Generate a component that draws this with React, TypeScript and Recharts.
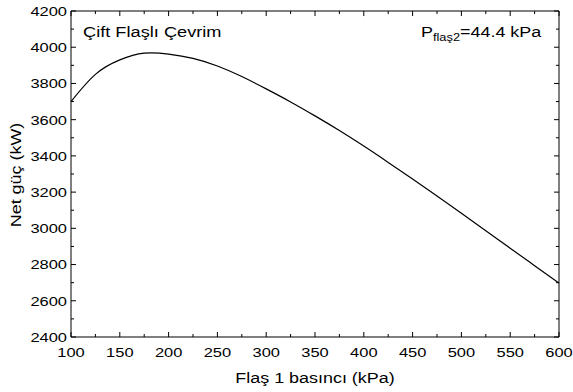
import { LineChart, Line, XAxis, YAxis } from "recharts";

// Flaş 1 basıncı (kPa)
const pressures = [100, 125, 150, 175, 200, 225, 250, 275, 300, 325, 350, 375, 400, 425, 450, 475, 500, 525, 550, 575, 600];
// Net güç (kW)
const netPower = [3700, 3850, 3930, 3967, 3962, 3938, 3896, 3838, 3770, 3698, 3621, 3540, 3454, 3364, 3272, 3178, 3083, 2987, 2890, 2794, 2698];

const xTicks = [100, 125, 150, 175, 200, 225, 250, 275, 300, 325, 350, 375, 400, 425, 450, 475, 500, 525, 550, 575, 600];
const yTicks = [2400, 2500, 2600, 2700, 2800, 2900, 3000, 3100, 3200, 3300, 3400, 3500, 3600, 3700, 3800, 3900, 4000, 4100, 4200];

const X_MIN = 100;
const X_MAX = 600;
const Y_MIN = 2400;
const Y_MAX = 4200;

// mirrored top/right tick lengths in data units (~5px major, ~3px minor)
const TOP_MAJOR = 28;
const TOP_MINOR = 17;
const RIGHT_MAJOR = 5.1;
const RIGHT_MINOR = 3.1;

const curveRows = pressures.map((p, i) => ({ p, w: netPower[i] }));
// top + right edge of the box
const frameRows = [
  { p: X_MIN, frame: Y_MAX },
  { p: X_MAX, frame: Y_MAX },
  { p: X_MAX, frame: Y_MIN },
];
// inward ticks on top and right edges, each pair split by a null row
const topMarkRows = xTicks.flatMap((t) => [
  { p: t, mark: Y_MAX },
  { p: t, mark: Y_MAX - (t % 50 === 0 ? TOP_MAJOR : TOP_MINOR) },
  { p: t, mark: null },
]);
const rightMarkRows = yTicks.flatMap((t) => [
  { p: X_MAX, mark: t },
  { p: X_MAX - (t % 200 === 0 ? RIGHT_MAJOR : RIGHT_MINOR), mark: t },
  { p: X_MAX, mark: null },
]);
const data: any[] = [...curveRows, ...frameRows, ...topMarkRows, ...rightMarkRows];

const FONT = "'Liberation Sans', Arial, sans-serif";

function renderXTick(props: any) {
  const { x, y, payload } = props;
  const major = payload.value % 50 === 0;
  const len = major ? 5 : 3;
  return (
    <g key={"xt" + payload.value}>
      <line x1={x} x2={x} y1={y} y2={y - len} stroke="#000" strokeWidth={1} />
      {major && (
        <text transform={`translate(${x},${y + 20}) scale(1.22,1)`} textAnchor="middle" fontSize={13.5} fontFamily={FONT} fill="#000">
          {payload.value}
        </text>
      )}
    </g>
  );
}

function renderYTick(props: any) {
  const { x, y, payload } = props;
  const major = payload.value % 200 === 0;
  const len = major ? 5 : 3;
  return (
    <g key={"yt" + payload.value}>
      <line x1={x} x2={x + len} y1={y} y2={y} stroke="#000" strokeWidth={1} />
      {major && (
        <text transform={`translate(${x - 4},${y}) scale(1.22,1)`} dy="0.36em" textAnchor="end" fontSize={13.5} fontFamily={FONT} fill="#000">
          {payload.value}
        </text>
      )}
    </g>
  );
}

const textBase: any = {
  position: "absolute",
  whiteSpace: "nowrap",
  fontFamily: FONT,
  fontSize: 14,
  lineHeight: "14px",
  color: "#000",
  transformOrigin: "0 0",
};

export default function App() {
  return (
    <div style={{ position: "absolute", left: 0, top: 0, width: 573, height: 392, background: "#fff" }}>
      <LineChart width={573} height={392} data={data} margin={{ top: 11, right: 14, bottom: 25, left: 21 }}>
        <XAxis
          dataKey="p"
          type="number"
          domain={[X_MIN, X_MAX]}
          ticks={xTicks}
          interval={0}
          height={30}
          tickSize={0}
          tickMargin={0}
          tickLine={false}
          axisLine={{ stroke: "#000" }}
          tick={renderXTick}
        />
        <YAxis
          type="number"
          domain={[Y_MIN, Y_MAX]}
          ticks={yTicks}
          interval={0}
          width={50}
          tickSize={0}
          tickMargin={0}
          tickLine={false}
          axisLine={{ stroke: "#000" }}
          tick={renderYTick}
        />
        <Line dataKey="frame" type="linear" stroke="#000" strokeWidth={1} dot={false} activeDot={false} isAnimationActive={false} />
        <Line dataKey="mark" type="linear" stroke="#000" strokeWidth={1} dot={false} activeDot={false} isAnimationActive={false} />
        <Line dataKey="w" type="natural" stroke="#000" strokeWidth={1.2} dot={false} activeDot={false} isAnimationActive={false} />
      </LineChart>
      <div style={{ ...textBase, left: 83, top: 25, transform: "scaleX(1.3)" }}>Çift Flaşlı Çevrim</div>
      <div style={{ ...textBase, left: 421, top: 25, transform: "scaleX(1.28)" }}>
        P<span style={{ fontSize: 10, position: "relative", top: 4 }}>flaş2</span>=44.4 kPa
      </div>
      <div style={{ ...textBase, left: 315, top: 383, transform: "scaleX(1.28) translate(-50%, -12px)" }}>Flaş 1 basıncı (kPa)</div>
      <div style={{ ...textBase, left: 21, top: 175, transform: "rotate(-90deg) scaleX(1.28) translate(-50%, -12px)" }}>Net güç (kW)</div>
    </div>
  );
}
